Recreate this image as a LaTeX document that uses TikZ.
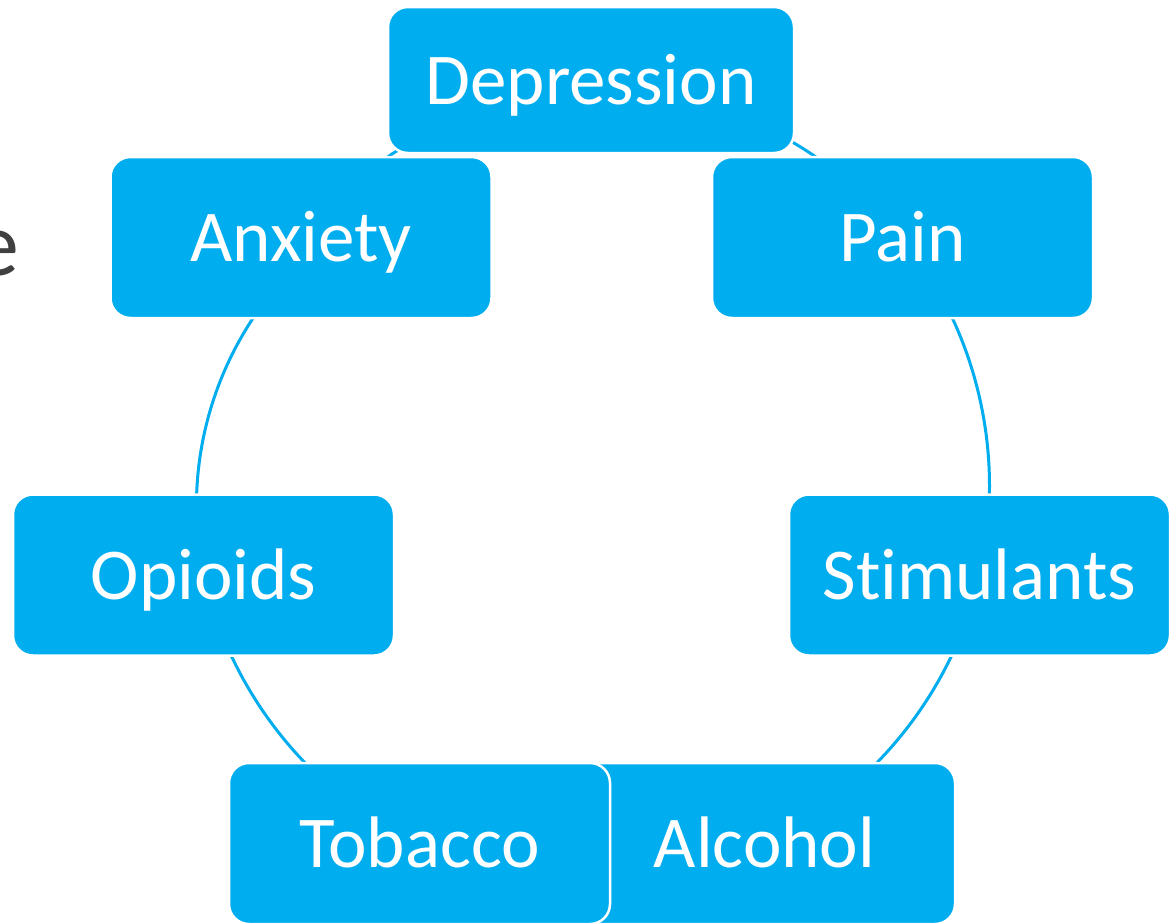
\documentclass[tikz,border=0pt]{standalone}
\usepackage{fontspec}
\setmainfont{Carlito}[Ligatures=NoCommon]
\usetikzlibrary{backgrounds}
\definecolor{cyanbox}{HTML}{00ADEF}
\definecolor{graytext}{HTML}{404040}
\tikzset{
  cbox/.style={draw=white, line width=2.5pt, fill=cyanbox, rounded corners=20pt,
    minimum width=381pt, minimum height=161pt, inner sep=0pt,
    text=white, font=\fontsize{73}{80}\selectfont, text height=48pt, text depth=0pt},
  conn/.style={draw=cyanbox, line width=3pt}
}
\begin{document}
\begin{tikzpicture}[x=1pt,y=1pt]
\useasboundingbox (0,0) rectangle (1176,-924);
\clip (0,0) rectangle (1176,-924);
\coordinate (c) at (591,-486);
\node[anchor=base east, text=graytext, font=\fontsize{92}{100}\selectfont, inner sep=0pt] (e) at (19,-275) {e};
% boxes (drawing order: later on top)
\node[cbox] (pain) at (902.5,-237.5) {Pain};
\node[cbox] (stim) at (979.5,-575) {Stimulants};
\node[cbox] (alc) at (764.5,-843.5) {Alcohol};
\node[cbox] (tob) at (419.5,-843.5) {Tobacco};
\node[cbox] (opi) at (203.5,-575) {Opioids};
\node[cbox, minimum width=406pt, minimum height=146pt] (dep) at (591,-80) {Depression};
\node[cbox] (anx) at (301,-237.5) {Anxiety};
\begin{scope}[on background layer]
  \fill[white] (0,0) rectangle (1176,-924);
  \draw[conn] (pain.center) arc[start angle=38.57, end angle=90, radius=399pt];
  \draw[conn] (stim.center) arc[start angle=-12.86, end angle=38.57, radius=399pt];
  \draw[conn] (alc.center) arc[start angle=-64.29, end angle=-12.86, radius=399pt];
  \draw[conn] (tob.center) arc[start angle=-115.71, end angle=-64.29, radius=399pt];
  \draw[conn] (opi.center) arc[start angle=-167.14, end angle=-115.71, radius=399pt];
  \draw[conn] (opi.center) arc[start angle=191.7, end angle=131, radius=340pt];
  \draw[conn] (anx.center) arc[start angle=141.43, end angle=90, radius=399pt];
\end{scope}
\end{tikzpicture}
\end{document}
